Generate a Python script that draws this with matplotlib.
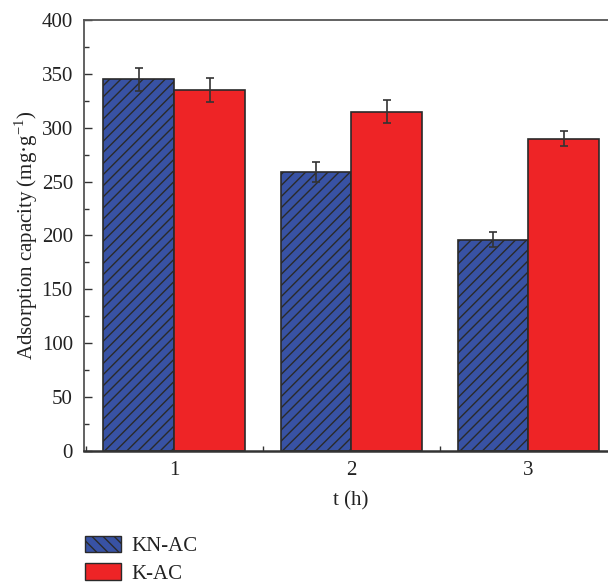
import matplotlib
matplotlib.use("Agg")
import matplotlib.pyplot as plt
import numpy as np
from matplotlib.patches import Patch
from matplotlib.ticker import MultipleLocator

# Data
times = [1, 2, 3]
kn_ac = [345, 259, 196]
kn_ac_err = [10.5, 9, 7]
k_ac = [335, 315, 290]
k_ac_err = [11, 11, 7]
series_names = ["KN-AC", "K-AC"]

plt.rcParams["font.family"] = ["Liberation Serif", "DejaVu Serif"]
plt.rcParams["mathtext.fontset"] = "custom"
plt.rcParams["mathtext.rm"] = "Liberation Serif"
plt.rcParams["hatch.color"] = "#1a1a1a"
plt.rcParams["hatch.linewidth"] = 1.0

fig = plt.figure(figsize=(6.08, 5.84), dpi=100)
ax = fig.add_axes([84 / 608, 133 / 584, 533 / 608, 431 / 584])

blue = "#3852a4"
red = "#ee2426"
edge = "#2a2a2a"
w = 0.4
x = np.array(times, dtype=float)

err_style = dict(ecolor="#333333", elinewidth=1.2, capthick=1.2)
ax.bar(x - w / 2, kn_ac, width=w, color=blue, edgecolor=edge, linewidth=1.2,
       hatch="///", yerr=kn_ac_err, capsize=3, error_kw=err_style, zorder=2)
ax.bar(x + w / 2, k_ac, width=w, color=red, edgecolor=edge, linewidth=1.2,
       yerr=k_ac_err, capsize=3, error_kw=err_style, zorder=2)

ax.set_xlim(0.49, 3.5)
ax.set_ylim(0, 400)
ax.set_xticks(times)
ax.xaxis.set_minor_locator(MultipleLocator(0.5))
ax.yaxis.set_major_locator(MultipleLocator(50))
ax.yaxis.set_minor_locator(MultipleLocator(25))
ax.tick_params(axis="both", which="both", direction="in", colors="#333333",
               labelcolor="#222222", labelsize=15)
ax.tick_params(which="major", length=6, width=1)
ax.tick_params(which="minor", length=3.5, width=1)
ax.tick_params(axis="x", pad=7)
ax.tick_params(axis="y", pad=8)
for s in ax.spines.values():
    s.set_color("#555555")
    s.set_linewidth(1.3)
ax.spines["bottom"].set_color("#333333")
ax.spines["bottom"].set_linewidth(1.8)

ax.set_xlabel("t (h)", fontsize=15, color="#222222", labelpad=8)
ax.set_ylabel("Adsorption capacity (mg·g$^{\\mathregular{-1}}$)", fontsize=15,
              color="#222222", labelpad=1)

handles = [
    Patch(facecolor=blue, edgecolor=edge, hatch="\\\\\\", linewidth=1.0),
    Patch(facecolor=red, edgecolor=edge, linewidth=1.0),
]
fig.legend(handles, series_names, loc="lower left",
           bbox_to_anchor=(85 / 608, 0), frameon=False, fontsize=15,
           borderpad=0, borderaxespad=0,
           handlelength=1.75, handleheight=0.85, handletextpad=0.5,
           labelspacing=0.35, labelcolor="#222222")

fig.savefig("out.png", dpi=100)
